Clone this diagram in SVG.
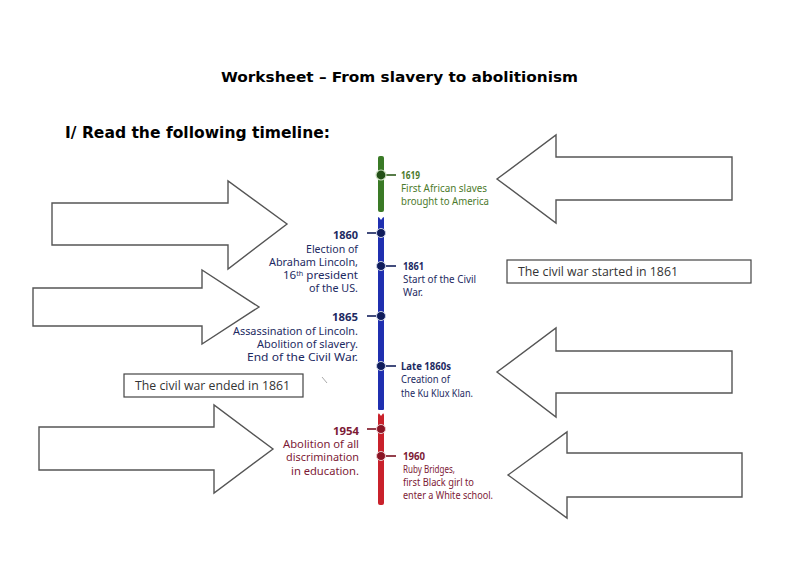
<svg xmlns="http://www.w3.org/2000/svg" width="800" height="565" viewBox="0 0 800 565">
<style>
.h{font-family:"DejaVu Sans","Liberation Sans",sans-serif;font-weight:bold;fill:#000}
.arr{fill:#fff;stroke:#555;stroke-width:1.4;stroke-linejoin:miter}
.box{fill:#fff;stroke:#444;stroke-width:1.2}
.bt{font-family:"Open Sans","Liberation Sans",sans-serif;font-size:12px;fill:#333}
.t{font-family:"Noto Sans","Open Sans",sans-serif;font-size:10px}
.L{font-size:10.5px}
.y{font-weight:bold}
.g{fill:#4c7a2c}
.b{fill:#1d2a62}
.r{fill:#7d1a36}
.tk{stroke-width:1.6}
</style>
<rect width="800" height="565" fill="#fff"/>
<text class="h" x="221" y="82" font-size="14.5" textLength="357" lengthAdjust="spacingAndGlyphs">Worksheet – From slavery to abolitionism</text>
<text class="h" x="65" y="138" font-size="15" textLength="265" lengthAdjust="spacingAndGlyphs">I/ Read the following timeline:</text>

<g id="arrow-left-1"><polygon class="arr" points="52,203 228,203 228,181 287,224 228,269 228,245 52,245"/></g>
<g id="arrow-left-2"><polygon class="arr" points="33,288 202,288 202,270 259,307 202,344 202,326 33,326"/></g>
<g id="arrow-left-3"><polygon class="arr" points="39,427 214,427 214,405 273,449 214,493 214,470 39,470"/></g>
<g id="arrow-right-1"><polygon class="arr" points="732,157 556,157 556,135 497,179 556,223 556,200 732,200"/></g>
<g id="arrow-right-2"><polygon class="arr" points="732,351 556,351 556,328 497,372 556,417 556,393 732,393"/></g>
<g id="arrow-right-3"><polygon class="arr" points="742,453 567,453 567,432 508,475 567,518 567,497 742,497"/></g>

<g id="box-started"><rect class="box" x="507" y="260" width="244" height="23"/><text class="bt" x="518" y="276" textLength="160" lengthAdjust="spacingAndGlyphs">The civil war started in 1861</text></g>
<g id="box-ended"><rect class="box" x="124" y="374" width="179" height="23"/><text class="bt" x="135" y="390" textLength="155" lengthAdjust="spacingAndGlyphs">The civil war ended in 1861</text></g>

<line x1="322" y1="377" x2="327" y2="383" stroke="#aaa" stroke-width="1"/>

<g id="timeline">
<rect x="378" y="156" width="6" height="56" rx="2" fill="#3a7a26"/>
<rect x="378" y="217" width="6" height="193" rx="1" fill="#1f2fb0"/>
<path d="M378,216 L381,220 L384,216" fill="#fff" stroke="none"/>
<rect x="378" y="413" width="6" height="92" rx="2" fill="#c9212b"/>
<path d="M378,412 L381,416 L384,412" fill="#fff" stroke="none"/>
</g>

<g id="connectors">
<line class="tk" x1="381" y1="175" x2="396" y2="175" stroke="#2f5c1c"/>
<line class="tk" x1="367" y1="233" x2="381" y2="233" stroke="#13205c"/>
<line class="tk" x1="381" y1="266" x2="396" y2="266" stroke="#13205c"/>
<line class="tk" x1="367" y1="316" x2="381" y2="316" stroke="#13205c"/>
<line class="tk" x1="381" y1="366" x2="396" y2="366" stroke="#13205c"/>
<line class="tk" x1="367" y1="429" x2="381" y2="429" stroke="#7a1020"/>
<line class="tk" x1="381" y1="456" x2="396" y2="456" stroke="#7a1020"/>
</g>

<g id="e1619">
<circle cx="381" cy="175" r="5" fill="#234f17" stroke="#cfe0c4" stroke-width="1.2"/>
<text class="t y g" x="401" y="179" textLength="19" lengthAdjust="spacingAndGlyphs">1619</text>
<text class="t g" x="401" y="192" textLength="86" lengthAdjust="spacingAndGlyphs">First African slaves</text>
<text class="t g" x="401" y="205" textLength="88" lengthAdjust="spacingAndGlyphs">brought to America</text>
</g>
<g id="e1860">
<circle cx="381" cy="233" r="4.5" fill="#0f1c5a" stroke="#c9cfe6" stroke-width="1"/>
<g class="t L b" text-anchor="end">
<text class="y" x="358" y="239" textLength="25" lengthAdjust="spacingAndGlyphs">1860</text>
<text x="358" y="253" textLength="52" lengthAdjust="spacingAndGlyphs">Election of</text>
<text x="358" y="266" textLength="89" lengthAdjust="spacingAndGlyphs">Abraham Lincoln,</text>
<text x="358" y="279" textLength="75" lengthAdjust="spacingAndGlyphs">16<tspan font-size="6.5" dy="-3">th</tspan><tspan dy="3"> president</tspan></text>
<text x="358" y="292" textLength="49" lengthAdjust="spacingAndGlyphs">of the US.</text>
</g>
</g>
<g id="e1861">
<circle cx="381" cy="266" r="4.5" fill="#0f1c5a" stroke="#c9cfe6" stroke-width="1"/>
<text class="t y b" x="403" y="270" textLength="21" lengthAdjust="spacingAndGlyphs">1861</text>
<text class="t b" x="403" y="283" textLength="73" lengthAdjust="spacingAndGlyphs">Start of the Civil</text>
<text class="t b" x="403" y="296" textLength="20" lengthAdjust="spacingAndGlyphs">War.</text>
</g>
<g id="e1865">
<circle cx="381" cy="316" r="4.5" fill="#0f1c5a" stroke="#c9cfe6" stroke-width="1"/>
<g class="t L b" text-anchor="end">
<text class="y" x="358" y="321" textLength="26" lengthAdjust="spacingAndGlyphs">1865</text>
<text x="358" y="335" textLength="125" lengthAdjust="spacingAndGlyphs">Assassination of Lincoln.</text>
<text x="358" y="348" textLength="101" lengthAdjust="spacingAndGlyphs">Abolition of slavery.</text>
<text x="358" y="361" textLength="111" lengthAdjust="spacingAndGlyphs">End of the Civil War.</text>
</g>
</g>
<g id="e1860s">
<circle cx="381" cy="366" r="4.5" fill="#0f1c5a" stroke="#c9cfe6" stroke-width="1"/>
<text class="t y b" x="401" y="370" textLength="50" lengthAdjust="spacingAndGlyphs">Late 1860s</text>
<text class="t b" x="401" y="383" textLength="49" lengthAdjust="spacingAndGlyphs">Creation of</text>
<text class="t b" x="401" y="397" textLength="72" lengthAdjust="spacingAndGlyphs">the Ku Klux Klan.</text>
</g>
<g id="e1954">
<circle cx="381" cy="429" r="4.5" fill="#8a1424" stroke="#eac9cc" stroke-width="1"/>
<g class="t L r" text-anchor="end">
<text class="y" x="359" y="435" textLength="26" lengthAdjust="spacingAndGlyphs">1954</text>
<text x="359" y="448" textLength="76" lengthAdjust="spacingAndGlyphs">Abolition of all</text>
<text x="359" y="461" textLength="73" lengthAdjust="spacingAndGlyphs">discrimination</text>
<text x="359" y="475" textLength="68" lengthAdjust="spacingAndGlyphs">in education.</text>
</g>
</g>
<g id="e1960">
<circle cx="381" cy="456" r="4.5" fill="#8a1424" stroke="#eac9cc" stroke-width="1"/>
<text class="t y r" x="403" y="460" textLength="22" lengthAdjust="spacingAndGlyphs">1960</text>
<text class="t r" x="403" y="473" textLength="52" lengthAdjust="spacingAndGlyphs">Ruby Bridges,</text>
<text class="t r" x="403" y="486" textLength="71" lengthAdjust="spacingAndGlyphs">first Black girl to</text>
<text class="t r" x="403" y="499" textLength="90" lengthAdjust="spacingAndGlyphs">enter a White school.</text>
</g>
</svg>
